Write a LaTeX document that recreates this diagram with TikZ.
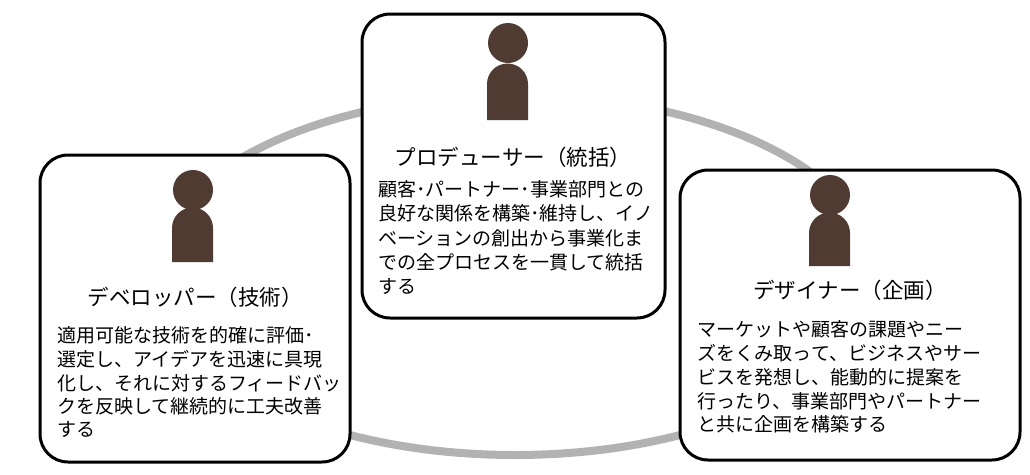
\documentclass[tikz,border=0pt]{standalone}
\usepackage{fontspec}
\usetikzlibrary{shapes.geometric}
\setmainfont{Noto Sans CJK JP}
\begin{document}
\begin{tikzpicture}[x=1pt,y=-1pt,
  card/.style={draw=black,line width=3pt,rounded corners=28pt,fill=white},
  person/.style={fill=iconbrown},
  ttl/.style={font=\fontsize{21.5}{24}\selectfont,anchor=center,inner sep=0},
  txt/.style={font=\fontsize{19}{22}\selectfont,anchor=west,inner sep=0}]
\definecolor{iconbrown}{HTML}{4F3B32}
\useasboundingbox (0,0) rectangle (1030,474);
\fill[white] (0,0) rectangle (1030,474);
\node[draw=black!30,line width=8pt,ellipse,minimum width=720pt,minimum height=360pt,inner sep=0] (ring) at (515,275) {};
% left
\draw[card] (40,155) rectangle (350,462);
\fill[person] (193,190) circle (20);
\fill[person] (172,262) -- (172,228) arc (180:360:20.5) -- (213,262) -- cycle;
\node[ttl] (t1) at (195,297) {デベロッパー（技術）};
\node[txt] (l1a) at (57,335) {適用可能な技術を的確に評価･};
\node[txt] (l1b) at (57,359) {選定し、アイデアを迅速に具現};
\node[txt] (l1c) at (57,383) {化し、それに対するフィードバッ};
\node[txt] (l1d) at (57,406) {クを反映して継続的に工夫改善};
\node[txt] (l1e) at (57,429) {する};
% center
\draw[card] (362,14) rectangle (665,318);
\fill[person] (508,43) circle (20);
\fill[person] (487,120) -- (487,84) arc (180:360:20.5) -- (528,120) -- cycle;
\node[ttl] (t2) at (513,157) {プロデューサー（統括）};
\node[txt] (l2a) at (378,189) {顧客･パートナー･事業部門との};
\node[txt] (l2b) at (378,213) {良好な関係を構築･維持し、イノ};
\node[txt] (l2c) at (378,238) {ベーションの創出から事業化ま};
\node[txt] (l2d) at (378,262) {での全プロセスを一貫して統括};
\node[txt] (l2e) at (378,286) {する};
% right
\draw[card] (680,170) rectangle (1020,460);
\fill[person] (830,195) circle (20);
\fill[person] (809,266) -- (809,233) arc (180:360:20.5) -- (850,266) -- cycle;
\node[ttl] (t3) at (850,290) {デザイナー（企画）};
\node[txt] (l3a) at (697,329) {マーケットや顧客の課題やニー};
\node[txt] (l3b) at (697,353) {ズをくみ取って、ビジネスやサー};
\node[txt] (l3c) at (697,377) {ビスを発想し、能動的に提案を};
\node[txt] (l3d) at (697,401) {行ったり、事業部門やパートナー};
\node[txt] (l3e) at (697,424) {と共に企画を構築する};
\end{tikzpicture}
\end{document}
